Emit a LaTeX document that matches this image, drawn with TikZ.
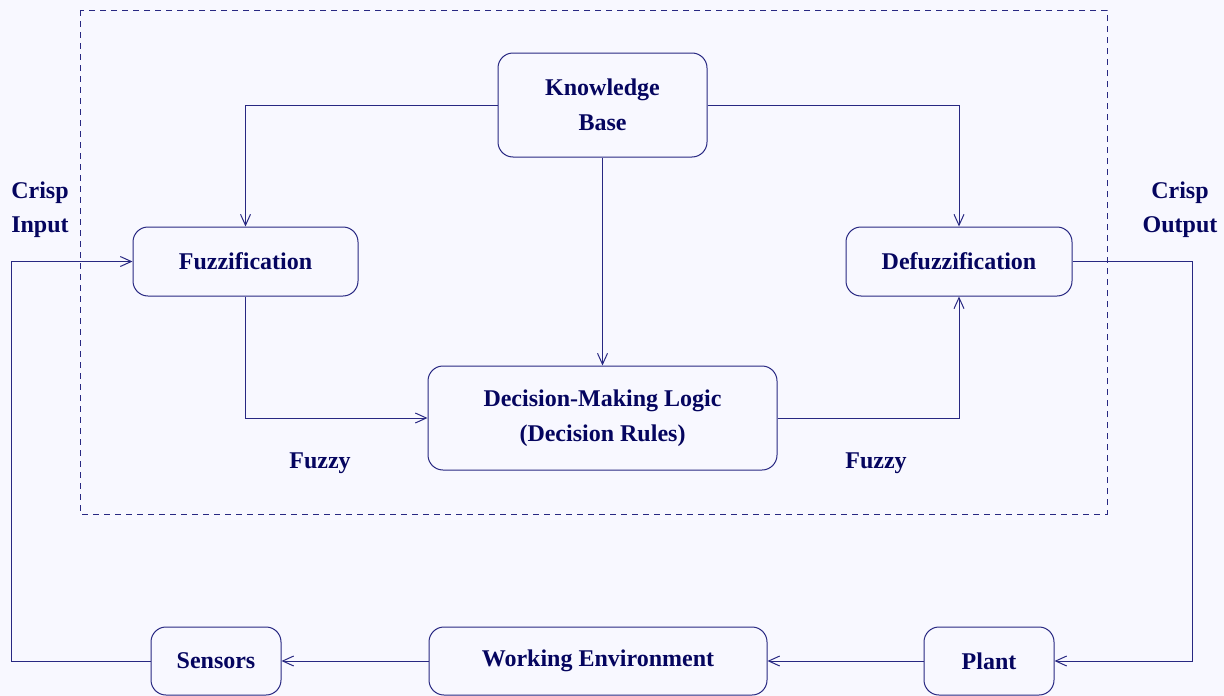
\documentclass[tikz,border=0pt]{standalone}
\usepackage{fontspec}
\setmainfont{Liberation Serif}
\usetikzlibrary{arrows.meta}
\definecolor{paperbg}{RGB}{248,248,255}
\definecolor{navyline}{RGB}{40,40,130}
\definecolor{navytext}{RGB}{5,5,95}
\begin{document}
\begin{tikzpicture}[x=1pt,y=-1pt,
    block/.style={draw=navyline,line width=1pt,rounded corners=15pt,inner sep=0pt,
      align=center,text=navytext,font=\fontsize{24}{35}\selectfont\bfseries},
    conn/.style={draw=navyline,line width=1pt,-{Straight Barb[length=11pt,width=10pt]}},
    lbl/.style={text=navytext,align=center,inner sep=0pt,
      font=\fontsize{24}{34}\selectfont\bfseries}]
    \fill [paperbg] (0,0) rectangle (1224,696);
    \useasboundingbox (0,0) rectangle (1224,696);
    % controller frame
    \draw [navyline,line width=0.8pt,dash pattern=on 6pt off 5pt] (80,10) rectangle (1107,514);
    % blocks
    \node [block,minimum width=209pt,minimum height=104pt] (kb) at (602.5,105) {Knowledge\\Base};
    \node [block,minimum width=225pt,minimum height=69pt] (fuzz) at (245.5,261.5) {Fuzzification};
    \node [block,minimum width=226pt,minimum height=69pt] (defuzz) at (959,261.5) {Defuzzification};
    \node [block,minimum width=349pt,minimum height=104pt] (dml) at (602.5,418) {Decision-Making Logic\\(Decision Rules)};
    \node [block,minimum width=130pt,minimum height=68pt] (sensors) at (216,661) {Sensors};
    \node [block,minimum width=338pt,minimum height=68pt] (env) at (598,661) {Working Environment};
    \node [block,minimum width=130pt,minimum height=68pt] (plant) at (989,661) {Plant};
    % labels
    \node [lbl] (crispin) at (40,210) {Crisp\\Input};
    \node [lbl] (crispout) at (1180,210) {Crisp\\Output};
    \node [lbl] (fuzzyl) at (320,463) {Fuzzy};
    \node [lbl] (fuzzyr) at (876,463) {Fuzzy};
    % connectors
    \coordinate (rturn) at (1192,661);
    \coordinate (lturn) at (11,661);
    \draw [conn] (kb.west) -| (fuzz.north);
    \draw [conn] (kb.east) -| (defuzz.north);
    \draw [conn] (kb.south) -- (dml.north);
    \draw [conn] (fuzz.south) |- (dml.west);
    \draw [conn] (dml.east) -| (defuzz.south);
    \draw [conn] (defuzz.east) -| (rturn) -- (plant.east);
    \draw [conn] (plant.west) -- (env.east);
    \draw [conn] (env.west) -- (sensors.east);
    \draw [conn] (sensors.west) -- (lturn) |- (fuzz.west);
\end{tikzpicture}
\end{document}
